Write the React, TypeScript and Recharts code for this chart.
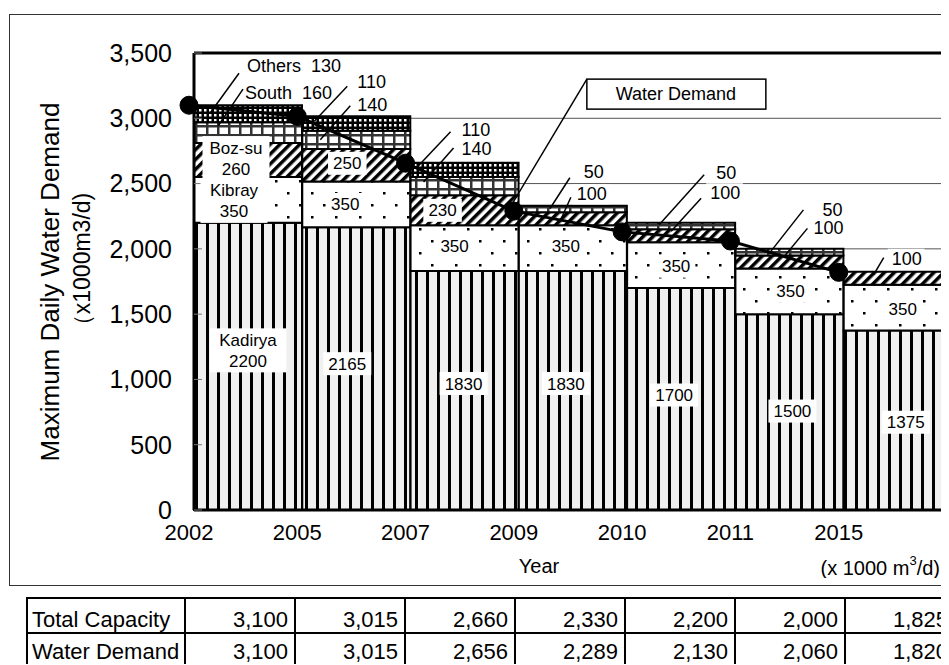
import {
  Bar,
  CartesianGrid,
  ComposedChart,
  LabelList,
  Line,
  ReferenceLine,
  XAxis,
  YAxis,
} from "recharts";

const years = ["2002", "2005", "2007", "2009", "2010", "2011", "2015"];
const kadirya = [2200, 2165, 1830, 1830, 1700, 1500, 1375];
const kibray = [350, 350, 350, 350, 350, 350, 350];
const bozsu = [260, 250, 230, 100, 100, 100, 100];
const south = [160, 140, 140, 50, 50, 50, 0];
const others = [130, 110, 110, 0, 0, 0, 0];
const waterDemand = [3100, 3015, 2656, 2289, 2130, 2060, 1820];
const totalCapacity = [3100, 3015, 2660, 2330, 2200, 2000, 1825];
const yTicks = [0, 500, 1000, 1500, 2000, 2500, 3000, 3500];
const xTicks = [0, 1, 2, 3, 4, 5, 6];

const FONT = "'Liberation Sans', Arial, sans-serif";

const chartData = years.map((year, i) => ({
  year,
  idx: i,
  kadirya: kadirya[i],
  kibray: kibray[i],
  bozsu: bozsu[i],
  south: south[i],
  others: others[i],
  demand: waterDemand[i],
}));

const fmt = (v: number) => v.toLocaleString("en-US");

// nudges for the white value boxes, from the segment centre
const insideShift: Record<string, (number[] | null)[]> = {
  kadirya: [[0, -16], [-9, -5], [-1, -7], [-7, -7], [-7, -4], [3, -1], [8, 2]],
  kibray: [[-14, 1], [-11, 0], [-10, -2], [-7, -2], [-5, 1], [1, 0], [5, 1]],
  bozsu: [[-12, -2], [-9, -2], [-22, 0], null, null, null, null],
};

// callouts above the bars: text, leader start, leader end (from segment top-left)
type Note = { tx: number; ty: number; sx: number; sy: number; ex: number; ey: number } | null;
const notesOthers: Note[] = [
  { tx: 53, ty: -39, sx: 45, sy: -32, ex: 16, ey: 8 },
  { tx: 55, ty: -34, sx: 45, sy: -30, ex: 12, ey: 5 },
  { tx: 51, ty: -33, sx: 40, sy: -31, ex: 6, ey: 5 },
  null, null, null, null,
];
const notesSouth: Note[] = [
  { tx: 51, ty: -29, sx: 49, sy: -33, ex: 24, ey: 4 },
  { tx: 55, ty: -26, sx: 48, sy: -25, ex: 18, ey: 9 },
  { tx: 51, ty: -28, sx: 43, sy: -29, ex: 13, ey: 5 },
  { tx: 65, ty: -34, sx: 51, sy: -28, ex: 31, ey: 3 },
  { tx: 89, ty: -50, sx: 77, sy: -48, ex: 32, ey: 2 },
  { tx: 87, ty: -39, sx: 68, sy: -39, ex: 35, ey: 3 },
  null,
];
const notesBozsu: Note[] = [
  null, null, null,
  { tx: 58, ty: -18, sx: 52, sy: -15, ex: 43, ey: 5 },
  { tx: 83, ty: -36, sx: 74, sy: -31, ex: 44, ey: 2 },
  { tx: 78, ty: -27, sx: 72, sy: -27, ex: 48, ey: 2 },
  { tx: 48, ty: -13, sx: 40, sy: -14, ex: 30, ey: 3 },
];

function box(props: any) {
  const vb = props.viewBox ?? props;
  return { x: vb.x as number, y: vb.y as number, w: vb.width as number, h: vb.height as number };
}

function insideLabel(values: number[], name: string, shift: (number[] | null)[]) {
  return (props: any) => {
    const i = props.index;
    const s = shift[i];
    if (!s) return null;
    const b = box(props);
    const cx = b.x + b.w / 2 + s[0];
    const cy = b.y + b.h / 2 + s[1];
    const lines = i === 0 ? [name, String(values[i])] : [String(values[i])];
    const w = Math.max(...lines.map((t) => t.length)) * 9.5 + 10;
    const h = lines.length * 21 + 2;
    return (
      <g>
        <rect x={cx - w / 2} y={cy - h / 2} width={w} height={h} fill="#fff" />
        {lines.map((t, k) => (
          <text
            key={k}
            x={cx}
            y={cy - h / 2 + 12 + k * 21}
            textAnchor="middle"
            dominantBaseline="central"
            fontSize={17}
            fill="#000"
          >
            {t}
          </text>
        ))}
      </g>
    );
  };
}

function noteLabel(values: number[], name: string, notes: Note[]) {
  return (props: any) => {
    const i = props.index;
    const n = notes[i];
    if (!n || !values[i]) return null;
    const b = box(props);
    const text = i === 0 ? `${name}\u00a0\u00a0${values[i]}` : String(values[i]);
    const w = text.length * 9.6;
    return (
      <g>
        <rect x={b.x + n.tx - 4} y={b.y + n.ty - 10} width={w + 8} height={20} fill="#fff" />
        <line
          x1={b.x + n.sx}
          y1={b.y + n.sy}
          x2={b.x + n.ex}
          y2={b.y + n.ey}
          stroke="#000"
          strokeWidth={1.5}
        />
        <text x={b.x + n.tx} y={b.y + n.ty} dominantBaseline="central" fontSize={18} fill="#000">
          {text}
        </text>
      </g>
    );
  };
}

function demandCallout(props: any) {
  if (props.index !== 3) return null;
  const vb = props.viewBox ?? props;
  const x = vb.x as number;
  const y = vb.y as number;
  return (
    <g>
      <line x1={x - 9} y1={y + 5} x2={x + 73} y2={y - 132} stroke="#000" strokeWidth={1.5} />
      <rect x={x + 73} y={y - 132} width={179} height={30} fill="#fff" stroke="#000" strokeWidth={1.5} />
      <text
        x={x + 162}
        y={y - 117}
        textAnchor="middle"
        dominantBaseline="central"
        fontSize={18}
        fill="#000"
      >
        Water Demand
      </text>
    </g>
  );
}

function YTitle() {
  return (
    <g>
      <text
        x={42}
        y={274}
        transform="rotate(-90 42 274)"
        textAnchor="middle"
        dominantBaseline="central"
        fontSize={26}
        fill="#000"
      >
        Maximum Daily Water Demand
      </text>
      <text
        x={74}
        y={257}
        transform="rotate(-90 74 257)"
        textAnchor="middle"
        dominantBaseline="central"
        fontSize={23}
        fill="#000"
      >
        （x1000m3/d)
      </text>
    </g>
  );
}

function XTitles() {
  return (
    <g>
      <text x={531} y={558} textAnchor="middle" dominantBaseline="central" fontSize={20} fill="#000">
        Year
      </text>
      <text x={932} y={560} textAnchor="end" dominantBaseline="central" fontSize={20} fill="#000">
        (x 1000 m
        <tspan dy={-8} fontSize={13}>
          3
        </tspan>
        <tspan dy={8}>/d)</tspan>
      </text>
    </g>
  );
}

const cellBase = {
  border: "2.5px solid #000",
  padding: "0 6px 1px 4px",
  verticalAlign: "bottom" as const,
  lineHeight: "23px",
  whiteSpace: "nowrap" as const,
};

export default function App() {
  const stroke = { stroke: "#000", strokeWidth: 2 };
  return (
    <div
      style={{
        position: "relative",
        width: 941,
        height: 657,
        overflow: "hidden",
        fontFamily: FONT,
        background: "#fff",
      }}
    >
      <div
        style={{
          position: "absolute",
          left: 1,
          top: 6,
          width: 1000,
          height: 570,
          border: "1.5px solid #333",
        }}
      />
      <div style={{ position: "absolute", left: 0, top: 0 }}>
        <ComposedChart
          width={954}
          height={570}
          data={chartData}
          margin={{ top: 45, right: 10, left: 76, bottom: 8 }}
          barCategoryGap={0}
          barGap={0}
        >
          <defs>
            <pattern id="pKadirya" width={11} height={11} patternUnits="userSpaceOnUse">
              <rect width={11} height={11} fill="#f0f0f0" />
              <rect x={0} width={3} height={11} fill="#000" />
            </pattern>
            <pattern id="pKibray" width={24} height={24} patternUnits="userSpaceOnUse">
              <rect width={24} height={24} fill="#fff" />
              <rect x={3} y={4} width={2.5} height={2.5} fill="#000" />
              <rect x={15} y={16} width={2.5} height={2.5} fill="#000" />
            </pattern>
            <pattern
              id="pBozsu"
              width={7}
              height={7}
              patternUnits="userSpaceOnUse"
              patternTransform="rotate(45)"
            >
              <rect width={7} height={7} fill="#fff" />
              <rect width={3.5} height={7} fill="#000" />
            </pattern>
            <pattern id="pSouth" width={11} height={9} patternUnits="userSpaceOnUse">
              <rect width={11} height={9} fill="#fff" />
              <rect width={2.5} height={9} fill="#333" />
              <rect width={11} height={2.5} fill="#333" />
            </pattern>
            <pattern id="pOthers" width={5} height={5} patternUnits="userSpaceOnUse">
              <rect width={5} height={5} fill="#000" />
              <rect x={1} y={1} width={2.5} height={2.5} fill="#fff" />
            </pattern>
          </defs>
          <CartesianGrid xAxisId="cat" vertical={false} stroke="#555" />
          <XAxis xAxisId="cat" dataKey="year" type="category" orientation="top" height={0} hide />
          <XAxis
            xAxisId="num"
            dataKey="idx"
            type="number"
            domain={[0, 7]}
            ticks={xTicks}
            interval={0}
            padding={{ left: -5, right: 5 }}
            tickFormatter={(v: number) => years[v] ?? ""}
            tickLine={false}
            tickSize={6}
            tickMargin={8}
            axisLine={{ stroke: "#000", strokeWidth: 3 }}
            tick={{ fontSize: 22, fill: "#000" }}
            height={60}
            label={<XTitles />}
          />
          <YAxis
            domain={[0, 3500]}
            ticks={yTicks}
            tickFormatter={fmt}
            width={110}
            axisLine={{ stroke: "#000", strokeWidth: 3 }}
            tickLine={{ stroke: "#777" }}
            tickSize={-8}
            tickMargin={30}
            tick={{ fontSize: 25, fill: "#000" }}
            label={<YTitle />}
          />
          <ReferenceLine xAxisId="cat" y={3500} stroke="#000" strokeWidth={3} />
          <Bar xAxisId="cat" dataKey="kadirya" stackId="s" fill="url(#pKadirya)" {...stroke} isAnimationActive={false}>
            <LabelList content={insideLabel(kadirya, "Kadirya", insideShift.kadirya)} />
          </Bar>
          <Bar xAxisId="cat" dataKey="kibray" stackId="s" fill="url(#pKibray)" {...stroke} isAnimationActive={false}>
            <LabelList content={insideLabel(kibray, "Kibray", insideShift.kibray)} />
          </Bar>
          <Bar xAxisId="cat" dataKey="bozsu" stackId="s" fill="url(#pBozsu)" {...stroke} isAnimationActive={false}>
            <LabelList content={insideLabel(bozsu, "Boz-su", insideShift.bozsu)} />
            <LabelList content={noteLabel(bozsu, "Boz-su", notesBozsu)} />
          </Bar>
          <Bar xAxisId="cat" dataKey="south" stackId="s" fill="url(#pSouth)" {...stroke} isAnimationActive={false}>
            <LabelList content={noteLabel(south, "South", notesSouth)} />
          </Bar>
          <Bar xAxisId="cat" dataKey="others" stackId="s" fill="url(#pOthers)" {...stroke} isAnimationActive={false}>
            <LabelList content={noteLabel(others, "Others", notesOthers)} />
          </Bar>
          <Line
            xAxisId="num"
            dataKey="demand"
            stroke="#000"
            strokeWidth={3}
            dot={{ r: 9, fill: "#000", stroke: "#000", strokeWidth: 1 }}
            activeDot={false}
            isAnimationActive={false}
          >
            <LabelList content={demandCallout} />
          </Line>
        </ComposedChart>
      </div>
      <table
        style={{
          position: "absolute",
          left: 18,
          top: 589,
          width: 928,
          borderCollapse: "collapse",
          tableLayout: "fixed",
          fontSize: 22,
          fontFamily: FONT,
        }}
      >
        <colgroup>
          <col style={{ width: 158 }} />
          {years.map((y) => (
            <col key={y} style={{ width: 110 }} />
          ))}
        </colgroup>
        <tbody>
          <tr style={{ height: 35 }}>
            <td style={{ ...cellBase, textAlign: "left" }}>Total Capacity</td>
            {totalCapacity.map((v, i) => (
              <td key={i} style={{ ...cellBase, textAlign: "right" }}>
                {fmt(v)}
              </td>
            ))}
          </tr>
          <tr style={{ height: 31 }}>
            <td style={{ ...cellBase, borderBottom: "none", textAlign: "left" }}>Water Demand</td>
            {waterDemand.map((v, i) => (
              <td key={i} style={{ ...cellBase, borderBottom: "none", textAlign: "right" }}>
                {fmt(v)}
              </td>
            ))}
          </tr>
        </tbody>
      </table>
    </div>
  );
}
